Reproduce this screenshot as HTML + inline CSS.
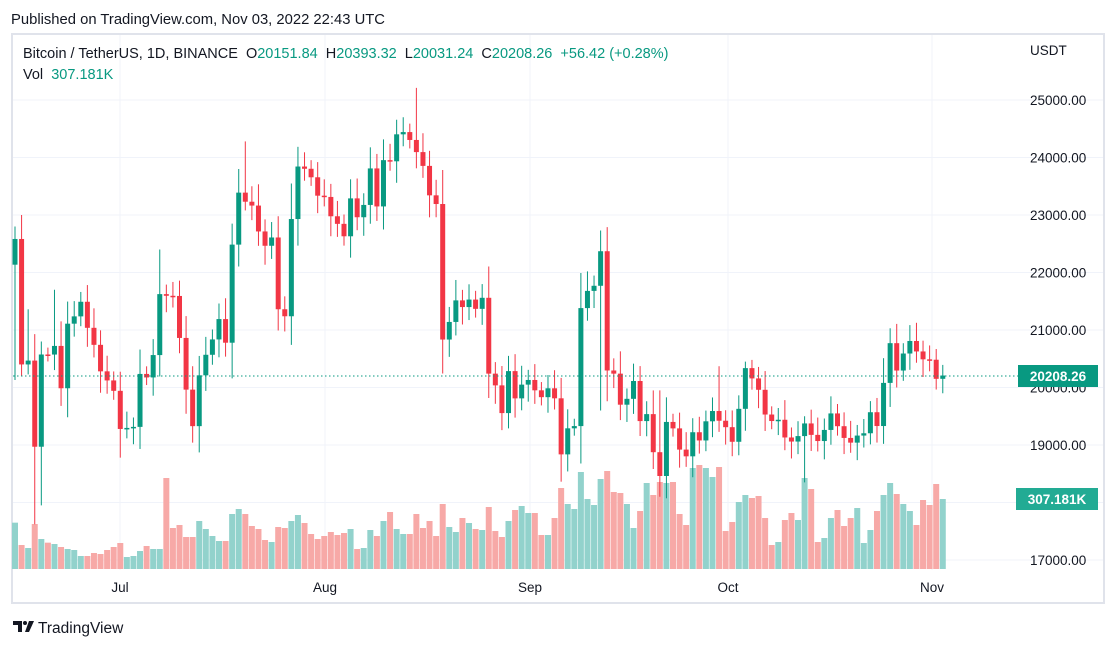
<!DOCTYPE html>
<html><head><meta charset="utf-8"><style>
body{margin:0;background:#fff;width:1116px;height:648px;overflow:hidden;font-family:"Liberation Sans",sans-serif;}
svg{position:absolute;left:0;top:0}
</style></head><body>
<svg id="s" width="1116" height="648" xmlns="http://www.w3.org/2000/svg" font-family="Liberation Sans, sans-serif"></svg>
<script>
(function(){
var C=[22583,20401,20468,18970,20574,20573,20723,19987,21110,21237,21491,21038,20742,20281,20123,19942,19279,19297,19315,20236,20175,20564,21624,21595,21592,20862,19963,19328,20212,20569,20836,21190,20779,22485,23389,23231,23164,22714,22465,22609,21361,21239,22930,23843,23804,23656,23336,23314,22978,22846,22630,23289,22961,23175,23810,23149,23954,23934,24403,24442,24305,24094,23854,23342,23191,20834,21140,21515,21399,21529,21368,21560,20241,20037,19555,20285,19811,20050,20131,19951,19832,19986,19812,18837,19290,19329,21381,21680,21769,22370,20296,20241,19701,19803,20113,19416,19537,18875,18461,19401,19289,18920,18803,19222,19079,19412,19591,19422,19310,19056,19629,20337,20158,19960,19530,19417,19439,19131,19060,19155,19375,19176,19069,19262,19549,19327,19123,19041,19164,19204,19570,19330,20080,20771,20295,20591,20809,20627,20490,20483,20151,20208];
var V=[158,225,234,162,207,218,222,231,237,240,258,258,249,252,240,231,219,261,258,243,228,237,237,24,174,165,201,201,153,177,198,213,213,132,117,132,168,177,210,216,171,174,153,135,159,192,207,198,186,195,
189,177,237,234,180,198,153,126,177,192,192,132,174,153,198,102,171,186,144,159,177,180,111,183,201,153,120,108,129,129,195,195,144,54,102,117,6,87,105,27,3,66,69,102,174,123,39,75,36,39,
36,132,165,-6,-15,-6,21,-9,183,156,96,75,84,78,144,225,216,150,129,150,24,57,216,204,144,120,168,144,114,219,180,123,75,39,72,102,123,165,90,105,42,87];
var HO={0:22800,1:23000,2:21360,4:20800,6:21700,22:22400,33:22850,34:23800,35:24280,36:23500,61:25211,59:24700,90:22790,98:19950,107:20370,111:20450,112:20480,133:21030,136:21085,120:19500,141:20393};
var LO={3:17622,4:17950,16:18780,0:20130,1:20200,120:18350,98:18100,84:18540,89:19600};
function y(p){return 100+(25000-p)*0.0575;}
var s='';
s+='<rect x="12" y="34" width="1092" height="569" fill="none" stroke="#e0e3eb" stroke-width="2"/>';
for(var p=17000;p<=25000;p+=1000){var yy=y(p);s+='<line x1="13" x2="1103" y1="'+yy+'" y2="'+yy+'" stroke="#f0f3fa" stroke-width="1"/>';}
var mx=[[120,'Jul'],[325,'Aug'],[530,'Sep'],[728,'Oct'],[932,'Nov']];
mx.forEach(function(m){s+='<line x1="'+m[0]+'" x2="'+m[0]+'" y1="35" y2="570" stroke="#f0f3fa"/>';s+='<text x="'+m[0]+'" y="592" font-size="13.5" fill="#131722" text-anchor="middle">'+m[1]+'</text>';});
var O=22136;
for(var i=0;i<142;i++){var o=i?C[i-1]:O,c=C[i];var x=15+i*6.58;var up=c>=o;
var vt=470+V[i]/3;s+='<rect x="'+(x-3)+'" y="'+vt+'" width="6" height="'+(569-vt)+'" fill="'+(up?'#92d2cc':'#f7a9a7')+'"/>';}
for(var i=0;i<142;i++){var o=i?C[i-1]:O,c=C[i];var x=15+i*6.58;var up=c>=o;var col=up?'#089981':'#f23645';
var mxp=Math.max(o,c),mnp=Math.min(o,c),d=mxp-mnp;
var h=HO[i]||mxp+0.2*d+120+((i*37)%5)*40;var l=LO[i]||mnp-0.2*d-120-((i*53)%5)*40;
s+='<line x1="'+x+'" x2="'+x+'" y1="'+y(h)+'" y2="'+y(l)+'" stroke="'+col+'" stroke-width="1"/>';
var t=y(mxp),b=y(mnp);if(b-t<1.5)b=t+1.5;
s+='<rect x="'+(x-2.5)+'" y="'+t+'" width="5" height="'+(b-t)+'" fill="'+col+'"/>';}
s+='<line x1="13" x2="1018" y1="376" y2="376" stroke="#089981" stroke-width="1" stroke-dasharray="1.5,2.5"/>';
s+='<text x="1030" y="55" font-size="13.5" fill="#131722">USDT</text>';
for(var p=17000;p<=25000;p+=1000){if(p==18000)continue;s+='<text x="1030" y="'+(y(p)+5)+'" font-size="13.5" fill="#131722">'+p+'.00</text>';}
s+='<rect x="1018" y="365" width="80" height="22" fill="#089981"/><text x="1058" y="381" font-size="13.5" font-weight="bold" fill="#fff" text-anchor="middle">20208.26</text>';
s+='<rect x="1016" y="488" width="82" height="22" fill="#22ab94"/><text x="1057" y="504" font-size="13.5" font-weight="bold" fill="#fff" text-anchor="middle">307.181K</text>';
s+='<text x="11" y="24" font-size="14.8" fill="#131722">Published on TradingView.com, Nov 03, 2022 22:43 UTC</text>';
s+='<text x="23" y="58" font-size="14.5" fill="#131722" xml:space="preserve">Bitcoin / TetherUS, 1D, BINANCE  O<tspan fill="#089981">20151.84</tspan>  H<tspan fill="#089981">20393.32</tspan>  L<tspan fill="#089981">20031.24</tspan>  C<tspan fill="#089981">20208.26</tspan>  <tspan fill="#089981">+56.42 (+0.28%)</tspan></text>';
s+='<text x="23" y="79" font-size="14.5" fill="#131722" xml:space="preserve">Vol  <tspan fill="#089981">307.181K</tspan></text>';
s+='<path d="M13 621h9v11h-4v-7h-5z" fill="#131722"/><circle cx="25" cy="623" r="2" fill="#131722"/><path d="M29 621h5l-5 11h-4z" fill="#131722"/>';
s+='<text x="38" y="633" font-size="15.5" fill="#131722">TradingView</text>';
document.getElementById('s').innerHTML=s;
})();
</script>
</body></html>
